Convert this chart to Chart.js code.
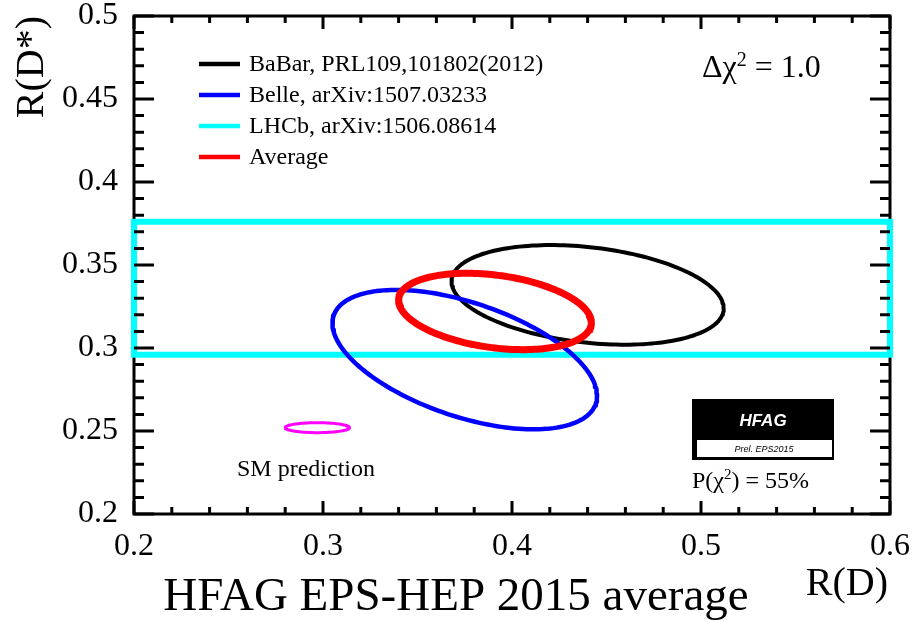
<!DOCTYPE html>
<html>
<head>
<meta charset="utf-8">
<title>HFAG EPS-HEP 2015 average</title>
<script src="https://cdn.jsdelivr.net/npm/chart.js@4.4.0/dist/chart.umd.min.js"></script>
<style>
  body { margin: 0; background: #fff; }
  #wrap { width: 912px; height: 621px; }
</style>
</head>
<body>
<div id="wrap"><canvas id="myChart" width="912" height="621"></canvas></div>
<script>
// measurements (Δχ² = 1 contours)
const experiments = ["BaBar, PRL109,101802(2012)", "Belle, arXiv:1507.03233", "LHCb, arXiv:1506.08614", "Average"];
const colors = ["#000000", "#0000ff", "#00ffff", "#ff0000"];
const rD = [0.440, 0.375, null, 0.391];
const rDErr = [0.072, 0.070, null, 0.051];
const rDstar = [0.332, 0.293, 0.336, 0.322];
const rDstarErr = [0.030, 0.042, 0.040, 0.023];
const corr = [-0.27, -0.52, 0, -0.29];

// SM prediction
const smRD = 0.297;
const smRDErr = 0.017;
const smRDstar = 0.252;
const smRDstarErr = 0.003;

const xTicks = [0.2, 0.3, 0.4, 0.5, 0.6];
const yTicks = [0.2, 0.25, 0.3, 0.35, 0.4, 0.45, 0.5];

const xMin = 0.2, xMax = 0.6, yMin = 0.2, yMax = 0.5;
const serif = "'Liberation Serif', 'Times New Roman', serif";

function contour(cx, sx, cy, sy, rho) {
  const pts = [];
  for (let k = 0; k < 180; k++) {
    const t = (2 * Math.PI * k) / 180;
    pts.push({
      x: cx + sx * Math.cos(t),
      y: cy + sy * (rho * Math.cos(t) + Math.sqrt(1 - rho * rho) * Math.sin(t)),
    });
  }
  pts.push(pts[0]);
  return pts;
}

function band(lo, hi) {
  return [
    { x: xMin, y: lo }, { x: xMax, y: lo },
    { x: xMax, y: hi }, { x: xMin, y: hi }, { x: xMin, y: lo },
  ];
}

const widths = [4, 4.5, 6, 7];
const drawOrder = [3, 2, 4, 1];

const datasets = experiments.map((name, i) => ({
  label: name,
  data: rD[i] === null
    ? band(rDstar[i] - rDstarErr[i], rDstar[i] + rDstarErr[i])
    : contour(rD[i], rDErr[i], rDstar[i], rDstarErr[i], corr[i]),
  borderColor: colors[i],
  borderWidth: widths[i],
  borderJoinStyle: rD[i] === null ? "miter" : "round",
  borderCapStyle: rD[i] === null ? "square" : "round",
  showLine: true,
  pointRadius: 0,
  fill: false,
  clip: rD[i] === null ? false : undefined,
  order: drawOrder[i],
}));

datasets.push({
  label: "SM prediction",
  data: contour(smRD, smRDErr, smRDstar, smRDstarErr, 0),
  borderColor: "#ff00ff",
  borderWidth: 3,
  borderJoinStyle: "round",
  borderCapStyle: "round",
  showLine: true,
  pointRadius: 0,
  order: 0,
});

// frame, inward ticks and text
const decorPlugin = {
  id: "decor",
  beforeDatasetsDraw(chart) {
    const ctx = chart.ctx;
    const a = chart.chartArea;
    ctx.save();
    ctx.strokeStyle = "#000";
    ctx.lineWidth = 3;
    ctx.strokeRect(a.left, a.top, a.right - a.left, a.bottom - a.top);
    ctx.restore();
  },
  afterDraw(chart) {
    const ctx = chart.ctx;
    const a = chart.chartArea;
    const xs = chart.scales.x;
    const ys = chart.scales.y;
    ctx.save();
    ctx.strokeStyle = "#000";
    ctx.lineWidth = 3;

    // minor/major ticks
    for (let k = 0; k <= 20; k++) {
      const v = xMin + k * 0.02;
      const px = xs.getPixelForValue(v);
      const len = k % 5 === 0 ? 13 : 7;
      ctx.beginPath();
      ctx.moveTo(px, a.bottom); ctx.lineTo(px, a.bottom - len);
      ctx.moveTo(px, a.top); ctx.lineTo(px, a.top + len);
      ctx.stroke();
    }
    for (let k = 0; k <= 30; k++) {
      const v = yMin + k * 0.01;
      const py = ys.getPixelForValue(v);
      const len = k % 5 === 0 ? 20 : 10;
      ctx.beginPath();
      ctx.moveTo(a.left, py); ctx.lineTo(a.left + len, py);
      ctx.moveTo(a.right, py); ctx.lineTo(a.right - len, py);
      ctx.stroke();
    }

    // legend
    ctx.font = "24px " + serif;
    ctx.textBaseline = "middle";
    ctx.textAlign = "left";
    experiments.forEach((name, i) => {
      const y = 64 + i * 31;
      ctx.strokeStyle = colors[i];
      ctx.lineWidth = 4.5;
      ctx.beginPath();
      ctx.moveTo(199, y); ctx.lineTo(240, y);
      ctx.stroke();
      ctx.fillStyle = "#000";
      ctx.fillText(name, 249, y + 1);
    });

    ctx.textBaseline = "alphabetic";
    ctx.fillStyle = "#000";

    // Δχ² = 1.0
    let x = 702;
    ctx.font = "32px " + serif;
    ctx.fillText("Δχ", x, 77);
    x += ctx.measureText("Δχ").width;
    ctx.font = "20px " + serif;
    ctx.fillText("2", x, 66);
    x += ctx.measureText("2").width;
    ctx.font = "32px " + serif;
    ctx.fillText(" = 1.0", x, 77);

    // SM label
    ctx.font = "24px " + serif;
    ctx.fillText("SM prediction", 237, 476);

    // P(χ²) = 55%
    x = 692;
    ctx.font = "24px " + serif;
    ctx.fillText("P(χ", x, 488);
    x += ctx.measureText("P(χ").width;
    ctx.font = "15px " + serif;
    ctx.fillText("2", x, 479);
    x += ctx.measureText("2").width;
    ctx.font = "24px " + serif;
    ctx.fillText(") = 55%", x, 488);

    // HFAG logo
    ctx.fillStyle = "#000";
    ctx.fillRect(692, 399, 142, 61);
    ctx.fillStyle = "#fff";
    ctx.fillRect(697, 440, 135, 17);
    ctx.textAlign = "center";
    ctx.textBaseline = "middle";
    ctx.font = "italic bold 17px 'Liberation Sans', Arial, sans-serif";
    ctx.fillText("HFAG", 763, 421);
    ctx.fillStyle = "#000";
    ctx.font = "italic 9px 'Liberation Sans', Arial, sans-serif";
    ctx.fillText("Prel. EPS2015", 764, 449);

    // axis titles
    ctx.textBaseline = "alphabetic";
    ctx.font = "40px " + serif;
    ctx.textAlign = "right";
    ctx.fillText("R(D)", 888, 595);
    ctx.save();
    ctx.translate(43, 16);
    ctx.rotate(-Math.PI / 2);
    ctx.fillText("R(D*)", 0, 0);
    ctx.restore();

    ctx.textAlign = "center";
    ctx.font = "47px " + serif;
    ctx.fillText("HFAG EPS-HEP 2015 average", 456, 610);
    ctx.restore();
  },
};

const ctx = document.getElementById("myChart");

window.meuGrafico = new Chart(ctx, {
  type: "scatter",
  data: { datasets: datasets },
  options: {
    responsive: false,
    animation: false,
    devicePixelRatio: 1,
    layout: { padding: { left: 0, right: 22, top: 16, bottom: 0 } },
    plugins: {
      legend: { display: false },
      tooltip: { enabled: false },
    },
    scales: {
      x: {
        type: "linear",
        min: xMin,
        max: xMax,
        grid: { display: false },
        border: { display: false },
        afterBuildTicks: (scale) => {
          scale.ticks = xTicks.map((v) => ({ value: v }));
        },
        ticks: {
          color: "#000",
          padding: 5,
          maxRotation: 0,
          autoSkip: false,
          font: { family: serif, size: 32 },
          callback: (v) => String(+v.toFixed(2)),
        },
        afterFit: (scale) => {
          scale.height = 107;
          scale.paddingLeft = 0;
          scale.paddingRight = 0;
        },
      },
      y: {
        type: "linear",
        min: yMin,
        max: yMax,
        grid: { display: false },
        border: { display: false },
        afterBuildTicks: (scale) => {
          scale.ticks = yTicks.map((v) => ({ value: v }));
        },
        ticks: {
          color: "#000",
          padding: 8,
          autoSkip: false,
          font: { family: serif, size: 32 },
          callback: (v) => String(+v.toFixed(2)),
        },
        afterFit: (scale) => {
          scale.width = 134;
          scale.paddingTop = 0;
          scale.paddingBottom = 0;
        },
      },
    },
  },
  plugins: [decorPlugin],
});
</script>
</body>
</html>
